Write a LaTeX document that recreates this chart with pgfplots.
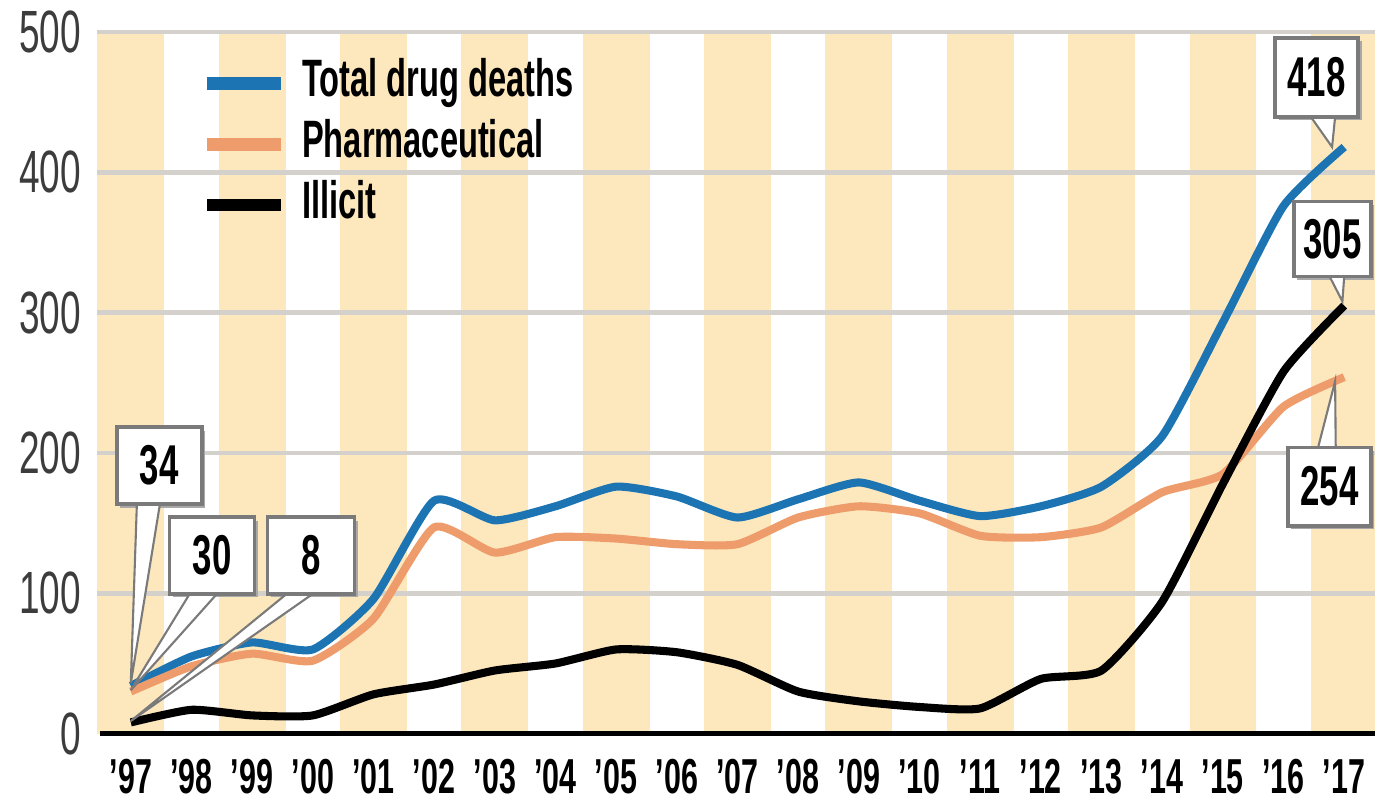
\documentclass[border=0pt]{standalone}
\usepackage{pgfplots}
\pgfplotsset{compat=1.18}
\usetikzlibrary{calc}
\usepackage{fontspec}
\setmainfont{Liberation Sans}[FakeStretch=0.62]

\definecolor{band}{HTML}{FDE8BD}
\definecolor{gridgray}{HTML}{D4D1CC}
\definecolor{totalblue}{HTML}{1D74B2}
\definecolor{pharmorange}{HTML}{EE9C6C}
\definecolor{ylab}{HTML}{3C3C3C}
\definecolor{boxgray}{HTML}{7A7A7A}
\definecolor{shadowgray}{HTML}{A8A8A8}

% callout: box corners (x1,y1) (x2,y2), pointer base a, base b, tip, text
\newcommand{\callout}[8]{%
  \fill[shadowgray] ($(axis cs:#1,#2)+(0.35mm,-0.35mm)$) rectangle ($(axis cs:#3,#4)+(0.35mm,-0.35mm)$);
  \filldraw[fill=white, draw=boxgray, line width=0.6pt, line join=miter] (axis cs:#5) -- (axis cs:#7) -- (axis cs:#6);
  \filldraw[fill=white, draw=boxgray, line width=1pt] (axis cs:#1,#2) rectangle (axis cs:#3,#4);
  \node[font=\bfseries\fontsize{16}{16}\selectfont, inner sep=0pt] at ($(axis cs:#1,#2)!0.5!(axis cs:#3,#4)$) {#8};
}

\begin{document}
\begin{tikzpicture}
\begin{axis}[
  width=127.94mm, height=70.3mm, scale only axis,
  xmin=1996.45, xmax=2017.5, ymin=0, ymax=500,
  clip=false,
  axis line style={draw=none},
  major tick length=0pt,
  xtick={1997,...,2017},
  xticklabels={’97,’98,’99,’00,’01,’02,’03,’04,’05,’06,’07,’08,’09,’10,’11,’12,’13,’14,’15,’16,’17},
  ytick={0,100,...,500},
  /pgf/number format/assume math mode=true,
  yticklabel style={font=\fontsize{17}{17}\selectfont, text=ylab, anchor=east, inner sep=0pt, xshift=-1.6mm},
  xticklabel style={font=\bfseries\fontsize{14}{14}\selectfont, anchor=north, inner sep=0pt, yshift=-2.5mm},
  legend cell align=left,
  legend image code/.code={\draw[#1, line width=3.6pt, line cap=butt] (0mm,0mm) -- (7.4mm,0mm);},
  legend style={at={(0.0809,0.961)}, anchor=north west, draw=none, fill=none,
    inner sep=0pt, outer sep=0pt, row sep=3.4pt,
    font=\bfseries\fontsize{15}{15}\selectfont,
    nodes={inner sep=0pt, text height=10.7pt, text depth=3.2pt},
    /tikz/every odd column/.append style={column sep=1.5mm}},
]

% background bands on odd years
\fill[band] (axis cs:1996.45,0) rectangle (axis cs:1997.55,500);
\fill[band] (axis cs:1998.45,0) rectangle (axis cs:1999.55,500);
\fill[band] (axis cs:2000.45,0) rectangle (axis cs:2001.55,500);
\fill[band] (axis cs:2002.45,0) rectangle (axis cs:2003.55,500);
\fill[band] (axis cs:2004.45,0) rectangle (axis cs:2005.55,500);
\fill[band] (axis cs:2006.45,0) rectangle (axis cs:2007.55,500);
\fill[band] (axis cs:2008.45,0) rectangle (axis cs:2009.55,500);
\fill[band] (axis cs:2010.45,0) rectangle (axis cs:2011.55,500);
\fill[band] (axis cs:2012.45,0) rectangle (axis cs:2013.55,500);
\fill[band] (axis cs:2014.45,0) rectangle (axis cs:2015.55,500);
\fill[band] (axis cs:2016.45,0) rectangle (axis cs:2017.5,500);

% grid
\draw[gridgray, line width=1.3pt] (axis cs:1996.45,100) -- (axis cs:2017.5,100);
\draw[gridgray, line width=1.3pt] (axis cs:1996.45,200) -- (axis cs:2017.5,200);
\draw[gridgray, line width=1.3pt] (axis cs:1996.45,300) -- (axis cs:2017.5,300);
\draw[gridgray, line width=1.3pt] (axis cs:1996.45,400) -- (axis cs:2017.5,400);
\draw[gridgray, line width=1.3pt] (axis cs:1996.45,500) -- (axis cs:2017.5,500);
\draw[black, line width=1.4pt] (axis cs:1996.5,0) -- (axis cs:2017.5,0);

\addplot[totalblue, line width=2.3pt, smooth, tension=0.35, line join=round] coordinates {
  (1997,34) (1998,55) (1999,65) (2000,60) (2001,96) (2002,166) (2003,152)
  (2004,162) (2005,176) (2006,169) (2007,154) (2008,167) (2009,179)
  (2010,166) (2011,155) (2012,162) (2013,176) (2014,212) (2015,293)
  (2016,376) (2017,418)
};
\addlegendentry{Total drug deaths}

\addplot[pharmorange, line width=2.3pt, smooth, tension=0.35, line join=round] coordinates {
  (1997,30) (1998,48) (1999,57) (2000,52) (2001,82) (2002,147) (2003,129)
  (2004,140) (2005,139) (2006,135) (2007,135) (2008,154) (2009,162)
  (2010,157) (2011,141) (2012,140) (2013,147) (2014,172) (2015,185)
  (2016,233) (2017,254)
};
\addlegendentry{Pharmaceutical}

\addplot[black, line width=2.3pt, smooth, tension=0.35, line join=round] coordinates {
  (1997,8) (1998,17) (1999,13) (2000,13) (2001,28) (2002,35) (2003,45)
  (2004,50) (2005,60) (2006,58) (2007,49) (2008,30) (2009,23)
  (2010,19) (2011,18) (2012,39) (2013,45) (2014,94) (2015,178)
  (2016,258) (2017,305)
};
\addlegendentry{Illicit}

% value callouts
\callout{1996.77}{218.4}{1998.17}{163.6}{1997.10,163.6}{1997.48,163.6}{1997,36}{34}
\callout{1997.64}{154.3}{1999.04}{99.6}{1997.97,99.6}{1998.42,99.6}{1997,31}{30}
\callout{1999.25}{154.3}{2000.69}{99.6}{1999.57,99.6}{2000.0,99.6}{1997,9}{8}
\callout{2015.86}{495.7}{2017.23}{439.5}{2016.45,439.5}{2016.85,439.5}{2016.8,418}{418}
\callout{2016.17}{379}{2017.44}{325.7}{2016.76,325.7}{2017.0,325.7}{2016.97,308}{305}
\callout{2016.07}{204}{2017.44}{148}{2016.57,204}{2016.86,204}{2016.85,251}{254}

% page extent
\path (rel axis cs:-0.0763,-0.0939) rectangle (rel axis cs:1,1.0455);
\end{axis}
\end{tikzpicture}
\end{document}
